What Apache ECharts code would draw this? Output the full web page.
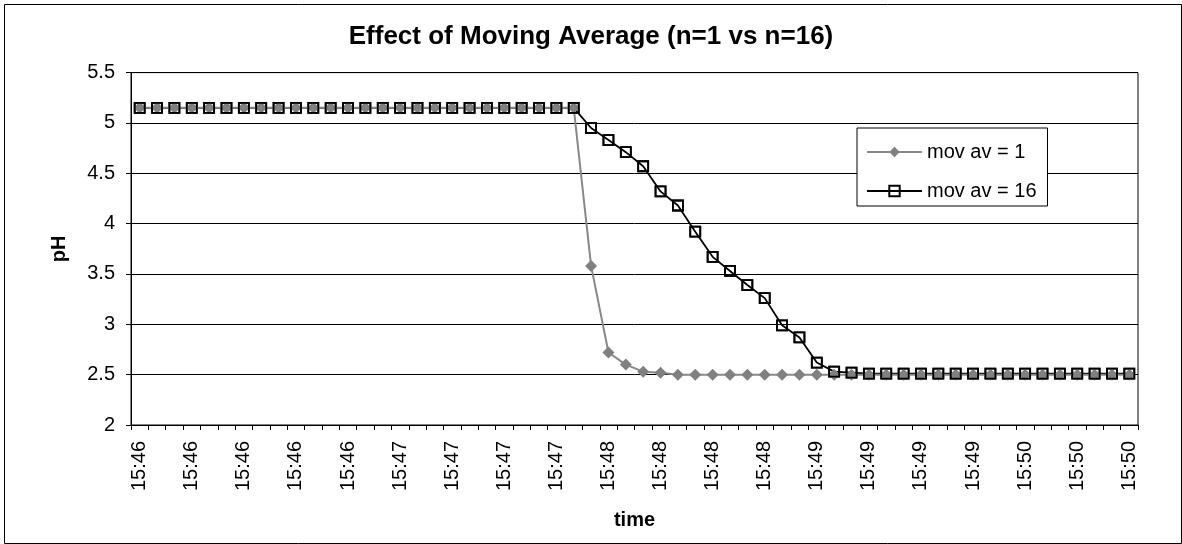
<!DOCTYPE html>
<html>
<head>
<meta charset="utf-8">
<script src="https://cdn.jsdelivr.net/npm/echarts@6/dist/echarts.min.js"></script>
<style>
html,body{margin:0;padding:0;background:#fff;}
#chart{width:1182px;height:544px;}
</style>
</head>
<body>
<div id="chart"></div>
<script>
// ---- data ----
const timeLabels = [
  '15:46','15:46','15:46','15:46','15:46','15:46','15:46','15:46','15:46','15:46','15:46','15:46','15:46',
  '15:47','15:47','15:47','15:47','15:47','15:47','15:47','15:47','15:47','15:47','15:47','15:47',
  '15:48','15:48','15:48','15:48','15:48','15:48','15:48','15:48','15:48','15:48','15:48','15:48',
  '15:49','15:49','15:49','15:49','15:49','15:49','15:49','15:49','15:49','15:49','15:49','15:49',
  '15:50','15:50','15:50','15:50','15:50','15:50','15:50','15:50','15:50'
];
const movAv1 = [
  5.15,5.15,5.15,5.15,5.15,5.15,5.15,5.15,5.15,5.15,5.15,5.15,5.15,
  5.15,5.15,5.15,5.15,5.15,5.15,5.15,5.15,5.15,5.15,5.15,5.15,5.15,
  3.58,2.72,2.60,2.53,2.52,
  2.50,2.50,2.50,2.50,2.50,2.50,2.50,2.50,2.50,2.50,2.50,2.50,2.50,2.50,
  2.50,2.50,2.50,2.50,2.50,2.50,2.50,2.50,2.50,2.50,2.50,2.50,2.50
];
const movAv16 = [
  5.15,5.15,5.15,5.15,5.15,5.15,5.15,5.15,5.15,5.15,5.15,5.15,5.15,
  5.15,5.15,5.15,5.15,5.15,5.15,5.15,5.15,5.15,5.15,5.15,5.15,5.15,
  4.95,4.83,4.71,4.57,4.32,4.18,3.92,3.67,3.53,3.39,3.26,2.99,2.87,2.62,2.53,2.52,
  2.51,2.51,2.51,2.51,2.51,2.51,2.51,2.51,2.51,2.51,2.51,2.51,2.51,2.51,2.51,2.51
];
const yTicks = { min: 2, max: 5.5, interval: 0.5 };
const titleText = 'Effect of Moving Average (n=1 vs n=16)';
const seriesNames = ['mov av = 1', 'mov av = 16'];

// ---- chart ----
const FONT = 'Liberation Sans, Arial, sans-serif';
const chart = echarts.init(document.getElementById('chart'), null, { renderer: 'canvas' });
const squareStyle = { color: 'rgba(0,0,0,0)', borderColor: '#000', borderWidth: 1.8 };
chart.setOption({
  animation: false,
  backgroundColor: '#fff',
  title: {
    text: titleText,
    left: 'center',
    top: 19,
    textStyle: { fontFamily: FONT, fontSize: 26, fontWeight: 'bold', color: '#000' }
  },
  graphic: [{
    type: 'rect', left: 2, top: 2, silent: true, z: -10,
    shape: { width: 1177, height: 539 },
    style: { fill: 'none', stroke: '#000', lineWidth: 1 }
  }],
  legend: {
    data: seriesNames,
    orient: 'vertical',
    left: 857, top: 128,
    padding: [14, 11, 5, 9],
    itemGap: 19,
    itemWidth: 55, itemHeight: 13,
    backgroundColor: '#fff',
    borderColor: '#000', borderWidth: 1,
    textStyle: { fontFamily: FONT, fontSize: 20, color: '#000' }
  },
  grid: {
    left: 131, right: 44, top: 72.6, bottom: 119,
    show: true, borderColor: '#000', borderWidth: 1, backgroundColor: '#fff'
  },
  xAxis: {
    type: 'category',
    data: timeLabels,
    boundaryGap: true,
    name: 'time',
    nameLocation: 'middle',
    nameGap: 85,
    nameTextStyle: { fontFamily: FONT, fontSize: 20, fontWeight: 'bold', color: '#000' },
    axisLine: { lineStyle: { color: '#000', width: 1 } },
    axisTick: { show: true, interval: 0, length: 5, inside: false, lineStyle: { color: '#000' } },
    axisLabel: { interval: 2, rotate: 90, margin: 16, fontFamily: FONT, fontSize: 20, color: '#000' },
    splitLine: { show: false }
  },
  yAxis: {
    type: 'value',
    min: yTicks.min, max: yTicks.max, interval: yTicks.interval,
    name: 'pH',
    nameLocation: 'middle',
    nameGap: 62,
    nameRotate: 90,
    nameTextStyle: { fontFamily: FONT, fontSize: 20, fontWeight: 'bold', color: '#000' },
    axisLine: { show: true, lineStyle: { color: '#000', width: 1 } },
    axisTick: { show: true, length: 5, inside: false, lineStyle: { color: '#000' } },
    axisLabel: { margin: 16, fontFamily: FONT, fontSize: 20, color: '#000' },
    splitLine: { show: true, lineStyle: { color: '#000', width: 1 } }
  },
  series: [
    {
      name: seriesNames[0], type: 'line', data: movAv1, z: 2,
      symbol: 'diamond', symbolSize: 12, showAllSymbol: true,
      lineStyle: { color: '#888', width: 2 },
      itemStyle: { color: '#808080', borderWidth: 0 }
    },
    {
      name: seriesNames[1], type: 'line', data: movAv16, z: 1,
      symbol: 'rect', symbolSize: 10, showAllSymbol: true,
      lineStyle: { color: '#000', width: 1.8 },
      itemStyle: squareStyle
    },
    {
      name: seriesNames[1], type: 'line', data: movAv16, z: 3, silent: true,
      symbol: 'rect', symbolSize: 10, showAllSymbol: true,
      lineStyle: { width: 0, opacity: 0 },
      itemStyle: squareStyle
    }
  ]
});
</script>
</body>
</html>
